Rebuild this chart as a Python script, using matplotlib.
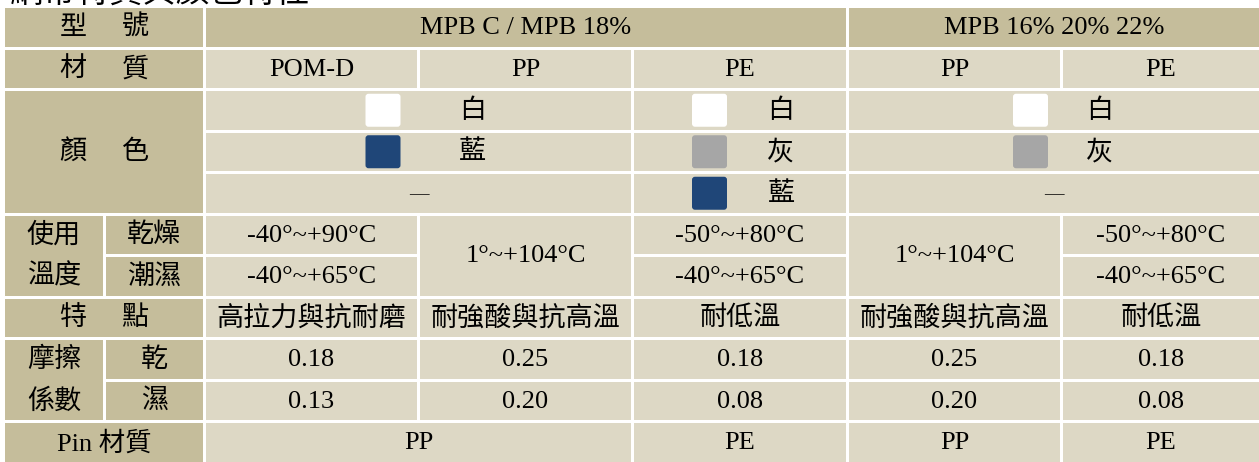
import matplotlib
matplotlib.use("Agg")
import matplotlib.pyplot as plt
from matplotlib.patches import Rectangle, FancyBboxPatch

plt.rcParams['font.family'] = ['Liberation Serif', 'Noto Sans CJK TC', 'DejaVu Sans']

# table content
title = "網帶特質與顏色特性"
groups = ["MPB C / MPB 18%", "MPB 16% 20% 22%"]
materials = ["POM-D", "PP", "PE", "PP", "PE"]
swatch_colors = {"白": "#ffffff", "藍": "#1f4678", "灰": "#a6a6a6"}
colors_mpb18 = ["白", "藍", None]        # POM-D + PP
colors_mpb18_pe = ["白", "灰", "藍"]     # PE
colors_mpb16 = ["白", "灰", None]        # PP + PE
temp_dry = ["-40°~+90°C", "1°~+104°C", "-50°~+80°C", "1°~+104°C", "-50°~+80°C"]
temp_wet = ["-40°~+65°C", None, "-40°~+65°C", None, "-40°~+65°C"]
features = ["高拉力與抗耐磨", "耐強酸與抗高溫", "耐低溫", "耐強酸與抗高溫", "耐低溫"]
friction_dry = [0.18, 0.25, 0.18, 0.25, 0.18]
friction_wet = [0.13, 0.20, 0.08, 0.20, 0.08]
pin_material = ["PP", "PE", "PP", "PE"]
pin_spans = [(2, 4), (4, 5), (5, 6), (6, 7)]

# layout (pixel grid)
col_edges = [5, 106, 206, 420, 634, 849, 1063, 1262]
row_edges = [8 + 41.5 * i for i in range(12)]
gap = 3
head_bg = "#c5bd9b"
cell_bg = "#ddd8c5"
fs = 19
fs_cjk = 19.5

fig = plt.figure(figsize=(12.59, 4.62), dpi=100)
ax = fig.add_axes([0, 0, 1, 1])
ax.set_xlim(0, 1259)
ax.set_ylim(462, 0)
ax.axis('off')


def cell(r0, r1, c0, c1, fill, text=None, size=fs):
    x0, x1 = col_edges[c0], col_edges[c1] - gap
    y0, y1 = row_edges[r0], row_edges[r1] - gap
    ax.add_patch(Rectangle((x0, y0), x1 - x0, y1 - y0, facecolor=fill, edgecolor='none'))
    if text is not None:
        ax.text((x0 + x1) / 2, (y0 + y1) / 2 + 1, text, ha='center', va='center', fontsize=size)


def spaced(r0, r1, chars):
    # two characters spread across the header column
    yc = (row_edges[r0] + row_edges[r1] - gap) / 2 + 1
    for ch, x in zip(chars, [73, 135]):
        ax.text(x, yc, ch, ha='center', va='center', fontsize=fs_cjk)


ax.text(10, 2, title, ha='left', va='baseline', fontsize=24, clip_on=False)

# header column
cell(0, 1, 0, 2, head_bg); spaced(0, 1, "型號")
cell(1, 2, 0, 2, head_bg); spaced(1, 2, "材質")
cell(2, 5, 0, 2, head_bg); spaced(2, 5, "顏色")
cell(5, 7, 0, 1, head_bg)
cell(5, 6, 1, 2, head_bg, "乾燥", fs_cjk)
cell(6, 7, 1, 2, head_bg, "潮濕", fs_cjk)
for r, t in [(5, "使用"), (6, "溫度"), (8, "摩擦"), (9, "係數")]:
    ax.text((col_edges[0] + col_edges[1] - gap) / 2, (row_edges[r] + row_edges[r + 1] - gap) / 2 + 1,
            t, ha='center', va='center', fontsize=fs_cjk)
cell(7, 8, 0, 2, head_bg); spaced(7, 8, "特點")
cell(8, 10, 0, 1, head_bg)
cell(8, 9, 1, 2, head_bg, "乾", fs_cjk)
cell(9, 10, 1, 2, head_bg, "濕", fs_cjk)
cell(10, 11, 0, 2, head_bg, "Pin 材質")

# model row
cell(0, 1, 2, 5, head_bg, groups[0])
cell(0, 1, 5, 7, head_bg, groups[1])

# material row
for i, m in enumerate(materials):
    cell(1, 2, 2 + i, 3 + i, cell_bg, m)

# colour rows: (col span, names, swatch offset, label offset)
colour_blocks = [((2, 4), colors_mpb18, -53, 54),
                 ((4, 5), colors_mpb18_pe, -48, 41),
                 ((5, 7), colors_mpb16, -41, 46)]
for (c0, c1), names, sdx, tdx in colour_blocks:
    xc = (col_edges[c0] + col_edges[c1] - gap) / 2
    for k, name in enumerate(names):
        r = 2 + k
        cell(r, r + 1, c0, c1, cell_bg)
        yc = (row_edges[r] + row_edges[r + 1] - gap) / 2
        if name is None:
            ax.text(xc, yc + 1, "—", ha='center', va='center', fontsize=14)
            continue
        ax.add_patch(FancyBboxPatch((xc + sdx, yc - 16.5), 35, 33,
                                    boxstyle="round,pad=0,rounding_size=3",
                                    facecolor=swatch_colors[name], edgecolor='none'))
        ax.text(xc + tdx, yc + 1, name, ha='center', va='center', fontsize=fs_cjk)

# temperature rows
for i in range(5):
    c = 2 + i
    if temp_wet[i] is None:
        cell(5, 7, c, c + 1, cell_bg, temp_dry[i])
    else:
        cell(5, 6, c, c + 1, cell_bg, temp_dry[i])
        cell(6, 7, c, c + 1, cell_bg, temp_wet[i])

# features
for i, f in enumerate(features):
    cell(7, 8, 2 + i, 3 + i, cell_bg, f, fs_cjk)

# friction
for i in range(5):
    cell(8, 9, 2 + i, 3 + i, cell_bg, f"{friction_dry[i]:.2f}")
    cell(9, 10, 2 + i, 3 + i, cell_bg, f"{friction_wet[i]:.2f}")

# pin material
for (c0, c1), p in zip(pin_spans, pin_material):
    cell(10, 11, c0, c1, cell_bg, p)

fig.savefig("out.png", dpi=100, facecolor='white')
